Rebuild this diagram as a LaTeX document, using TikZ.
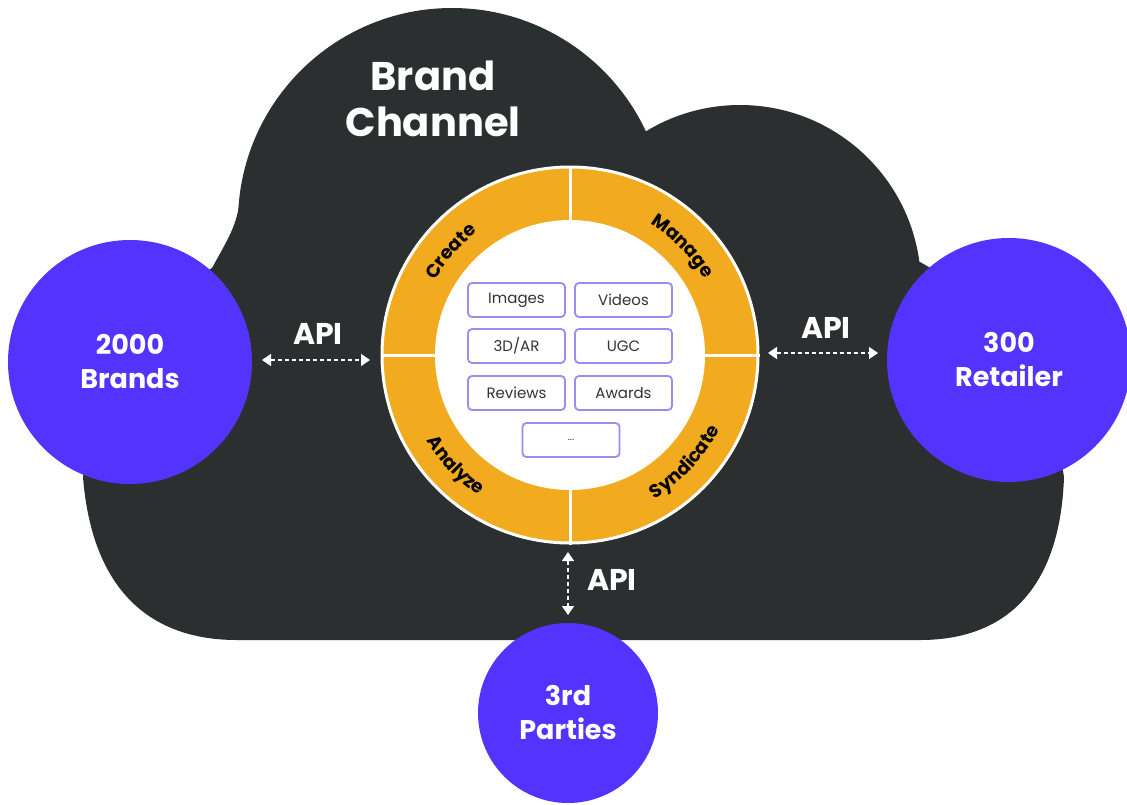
\documentclass[tikz,border=0pt]{standalone}
\usepackage{fontspec}
\setmainfont{Poppins}
\usetikzlibrary{arrows.meta,decorations.text}
\definecolor{cloudc}{HTML}{2B2F2F}
\definecolor{purp}{HTML}{5533FF}
\definecolor{ringc}{HTML}{F2AA1E}
\definecolor{boxc}{HTML}{9F8AF0}
\definecolor{boxtxt}{HTML}{333333}
\tikzset{
  party/.style={circle, fill=purp, text=white, inner sep=0pt, align=center,
    font=\bfseries\fontsize{27}{34}\selectfont},
  itembox/.style={draw=boxc, line width=1.8pt, rounded corners=4pt, fill=white,
    minimum width=97pt, minimum height=34pt, inner sep=0pt, text=boxtxt,
    font=\fontsize{15}{18}\selectfont},
  apilabel/.style={text=white, inner sep=0pt, font=\bfseries\fontsize{30}{34}\selectfont},
  apiarrow/.style={white, line width=1.4pt, dash pattern=on 4pt off 3pt,
    {Triangle[width=12pt,length=9pt]}-{Triangle[width=12pt,length=9pt]}},
  ringtext/.style={decorate, decoration={text along path, text align=center,
    text={|\bfseries\fontsize{18.5}{20}\selectfont\addfontfeature{LetterSpace=5}|#1}}},
}
\begin{document}
\begin{tikzpicture}[x=1pt,y=-1pt]
\useasboundingbox (0,0) rectangle (1127,804);
\fill[white] (0,0) rectangle (1127,804);
% cloud
\fill[cloudc] (452,222) circle[radius=214pt];
\fill[cloudc] (740,286) circle[radius=181pt];
\fill[cloudc] (243,185) .. controls (236,225) .. (212,268) -- (110,330) -- (83,477)
  .. controls (92,590) and (150,640) .. (237,640) -- (920,640)
  .. controls (1005,640) and (1060,590) .. (1064,477)
  -- (1040,330) -- (920,262) -- cycle;
% title
\node[text=white, align=center, inner sep=0pt, font=\bfseries\fontsize{40}{46}\selectfont] (title) at (433,99) {Brand\\Channel};
% ring
\node[circle, fill=ringc, draw=white, line width=3pt, minimum size=376pt, inner sep=0pt] (ring) at (570,355) {};
\draw[white, line width=3pt] (ring.north) -- (ring.south);
\draw[white, line width=3pt] (ring.west) -- (ring.east);
\node[circle, fill=white, minimum size=270pt, inner sep=0pt] (core) at (570,355) {};
\begin{scope}[shift={(ring.center)}, x=1pt, y=1pt]
  \path[ringtext=Create] (179:154) arc[start angle=179, end angle=99, radius=154pt];
  \path[ringtext=Manage] (84:154) arc[start angle=84, end angle=4, radius=154pt];
  \path[ringtext=Analyze] (184:167) arc[start angle=184, end angle=264, radius=167pt];
  \path[ringtext=Syndicate] (-88:167) arc[start angle=-88, end angle=2, radius=167pt];
\end{scope}
% boxes
\node[itembox] (images) at (516.5,300) {Images};
\node[itembox] (videos) at (623.5,300) {Videos};
\node[itembox] (ar) at (516.5,346) {3D/AR};
\node[itembox] (ugc) at (623.5,346) {UGC};
\node[itembox] (reviews) at (516.5,393) {Reviews};
\node[itembox] (awards) at (623.5,393) {Awards};
\node[itembox, font=\fontsize{10}{12}\selectfont] (more) at (571,440) {...};
% parties
\node[party, minimum size=244pt] (brands) at (130,362) {2000\\Brands};
\node[party, minimum size=244pt] (retailer) at (1009,360) {300\\Retailer};
\node[party, minimum size=180pt] (third) at (568,713) {3rd\\Parties};
% API connectors
\coordinate (la) at (262,360);
\coordinate (lb) at (370,360);
\coordinate (ra) at (768,353);
\coordinate (rb) at (878,353);
\coordinate (ba) at (568,552);
\coordinate (bb) at (568,615);
\draw[apiarrow] (la) -- (lb);
\draw[apiarrow] (ra) -- (rb);
\draw[apiarrow] (ba) -- (bb);
\node[apilabel] (apil) at (318,334) {API};
\node[apilabel] (apir) at (826,328) {API};
\node[apilabel] (apib) at (612,580) {API};
\end{tikzpicture}
\end{document}
